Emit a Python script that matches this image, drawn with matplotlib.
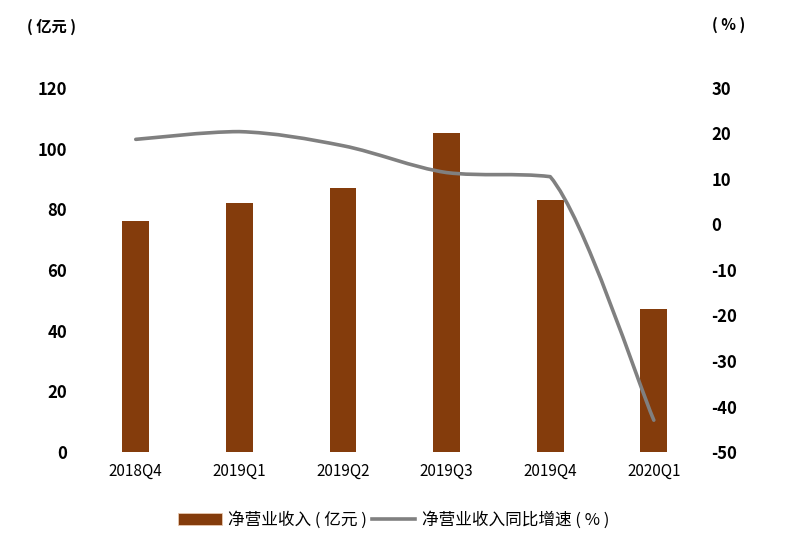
import numpy as np
import matplotlib.pyplot as plt
from matplotlib.path import Path
from matplotlib.patches import PathPatch
from matplotlib.lines import Line2D
from matplotlib.patches import Patch

plt.rcParams['font.family'] = ['Noto Sans CJK SC', 'DejaVu Sans']
plt.rcParams['axes.unicode_minus'] = False

quarters = ['2018Q4', '2019Q1', '2019Q2', '2019Q3', '2019Q4', '2020Q1']
revenue = [76, 82, 87, 105, 83, 47]          # 净营业收入（亿元）
growth = [18.7, 20.4, 17.3, 11.4, 10.5, -43.0]  # 同比增速（%）

bar_color = '#843C0C'
line_color = '#808080'

fig = plt.figure(figsize=(8.12, 5.53), dpi=100)
ax = fig.add_axes([0.1034, 0.1826, 0.7656, 0.6584])
ax2 = ax.twinx()

x = np.arange(len(quarters))
ax.bar(x, revenue, width=0.26, color=bar_color, zorder=2)
ax.set_xlim(-0.5, len(quarters) - 0.5)
ax.set_ylim(0, 120)
ax.set_yticks(range(0, 121, 20))
ax.set_xticks(x)
ax.set_xticklabels(quarters)

# 平滑折线（贝塞尔曲线，控制点限制在相邻两点之间，避免过冲）
pts = np.column_stack([x, growth]).astype(float)
verts = [tuple(pts[0])]
codes = [Path.MOVETO]
n = len(pts)
for i in range(n - 1):
    p0 = pts[i - 1] if i > 0 else pts[i]
    p1, p2 = pts[i], pts[i + 1]
    p3 = pts[i + 2] if i + 2 < n else pts[i + 1]
    c1 = p1 + (p2 - p0) / 6
    c2 = p2 - (p3 - p1) / 6
    lo, hi = min(p1[1], p2[1]), max(p1[1], p2[1])
    c1[1] = np.clip(c1[1], lo, hi)
    c2[1] = np.clip(c2[1], lo, hi)
    verts += [tuple(c1), tuple(c2), tuple(p2)]
    codes += [Path.CURVE4] * 3
ax2.add_patch(PathPatch(Path(verts, codes), fill=False, edgecolor=line_color,
                        lw=2.6, capstyle='round', joinstyle='round', zorder=3))
ax2.set_ylim(-50, 30)
ax2.set_yticks(range(-50, 31, 10))

for a in (ax, ax2):
    for s in a.spines.values():
        s.set_visible(False)
    a.tick_params(length=0, labelsize=12)
ax.tick_params(axis='x', pad=8, labelsize=11)
ax.tick_params(axis='y', pad=12)
ax2.tick_params(axis='y', pad=4)
for lab in ax.get_yticklabels() + ax2.get_yticklabels():
    lab.set_fontweight('bold')

fig.text(0.064, 0.951, '( 亿元 )', ha='center', va='center', fontsize=11, fontweight='bold')
fig.text(0.897, 0.955, '( % )', ha='center', va='center', fontsize=11, fontweight='bold')

handles = [Patch(facecolor=bar_color, edgecolor='#E8C9B0', lw=0.6),
           Line2D([0], [0], color=line_color, lw=2.6)]
fig.legend(handles, ['净营业收入 ( 亿元 )', '净营业收入同比增速 ( % )'],
           loc='center', bbox_to_anchor=(0.485, 0.06), ncol=2, frameon=False,
           fontsize=12, handlelength=2.6, handletextpad=0.4, columnspacing=0.3)

fig.savefig('out.png', dpi=100)
